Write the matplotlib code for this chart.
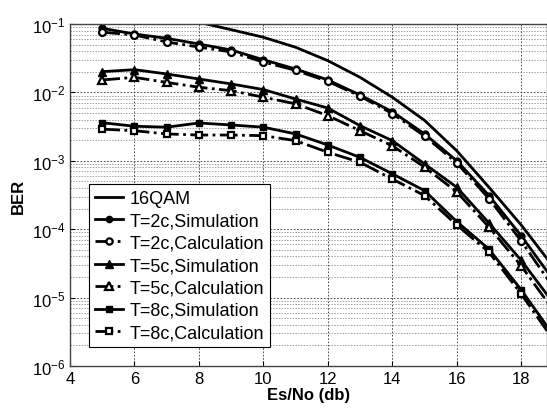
import matplotlib
matplotlib.use("Agg")
import matplotlib.pyplot as plt
import numpy as np

plt.rcParams['font.family'] = ['Liberation Sans', 'DejaVu Sans']
plt.rcParams['mathtext.fontset'] = 'custom'
plt.rcParams['mathtext.rm'] = 'Liberation Sans'

# 数据
snr = [5, 6, 7, 8, 9, 10, 11, 12, 13, 14, 15, 16, 17, 18, 19]
qam_snr = [7, 8, 9, 10, 11, 12, 13, 14, 15, 16, 17, 18, 19]
qam_ber = [0.125, 0.106, 0.0826, 0.064, 0.0457, 0.0291, 0.0166, 0.0085,
           0.0039, 0.0014, 4.1e-4, 1.15e-4, 2.8e-5]
sim_2c = [0.0865, 0.0714, 0.0618, 0.051, 0.0417, 0.030, 0.022, 0.0152,
          0.00916, 0.00522, 0.00247, 0.00100, 3.1e-4, 8.0e-5, 1.8e-5]
calc_2c = [0.076, 0.069, 0.0546, 0.046, 0.039, 0.0278, 0.021, 0.0145,
           0.0088, 0.0049, 0.0023, 9.3e-4, 2.8e-4, 6.7e-5, 1.4e-5]
sim_5c = [0.0201, 0.0215, 0.0186, 0.0157, 0.0133, 0.011, 0.008, 0.0059,
          0.00326, 0.00197, 9.0e-4, 4.1e-4, 1.23e-4, 3.5e-5, 8.3e-6]
calc_5c = [0.0152, 0.0166, 0.014, 0.0119, 0.0106, 0.0085, 0.0068, 0.00457,
           0.00275, 0.00166, 8.1e-4, 3.5e-4, 1.07e-4, 2.9e-5, 6.5e-6]
sim_8c = [0.0036, 0.0032, 0.0031, 0.00357, 0.00334, 0.0031, 0.00247, 0.0017,
          0.00112, 6.45e-4, 3.66e-4, 1.29e-4, 5.1e-5, 1.3e-5, 2.8e-6]
calc_8c = [0.0029, 0.00275, 0.00247, 0.00238, 0.00238, 0.00233, 0.00197, 0.00133,
           9.5e-4, 5.4e-4, 3.1e-4, 1.15e-4, 4.6e-5, 1.13e-5, 2.4e-6]

fig = plt.figure(figsize=(5.47, 4.10), dpi=100)
ax = fig.add_axes([0.128, 0.105, 0.872, 0.834])

lw = 2.0
ms = 5
ax.semilogy(qam_snr, qam_ber, '-', color='k', lw=lw, label='16QAM')
ax.semilogy(snr, sim_2c, '-', color='k', lw=lw, marker='o', ms=ms,
            mfc='k', label='T=2c,Simulation')
ax.semilogy(snr, calc_2c, '-.', color='k', lw=lw, marker='o', ms=ms,
            mfc='w', mew=1.6, label='T=2c,Calculation')
ax.semilogy(snr, sim_5c, '-', color='k', lw=lw, marker='^', ms=ms + 1,
            mfc='k', label='T=5c,Simulation')
ax.semilogy(snr, calc_5c, '-.', color='k', lw=lw, marker='^', ms=ms + 1,
            mfc='w', mew=1.6, label='T=5c,Calculation')
ax.semilogy(snr, sim_8c, '-', color='k', lw=lw, marker='s', ms=ms,
            mfc='k', label='T=8c,Simulation')
ax.semilogy(snr, calc_8c, '-.', color='k', lw=lw, marker='s', ms=ms,
            mfc='w', mew=1.6, label='T=8c,Calculation')

ax.set_xlim(4, 18.8)
ax.set_ylim(1e-6, 1e-1)
ax.set_xticks([4, 6, 8, 10, 12, 14, 16, 18])
ax.grid(True, which='major', color='#333333', linestyle=(0, (2, 2)), lw=0.6)
ax.grid(True, which='minor', color='#777777', linestyle=(0, (2, 2)), lw=0.5)
ax.tick_params(which='both', direction='in', labelsize=12, top=False, right=False)
ax.tick_params(which='minor', length=0)
for s in ax.spines.values():
    s.set_color('#444444')
    s.set_linewidth(1.0)

ax.set_xlabel('Es/No (db)', fontsize=12, fontweight='bold', labelpad=1)
ax.set_ylabel('BER', fontsize=12, fontweight='bold', labelpad=4)

leg = ax.legend(loc='lower left', bbox_to_anchor=(0.04, 0.056), fontsize=13,
                fancybox=False, framealpha=1, edgecolor='k', borderaxespad=0,
                handlelength=1.6, labelspacing=0.3, handletextpad=0.35,
                borderpad=0.3, markerscale=0.9)
leg.get_frame().set_linewidth(0.8)

fig.savefig('out.png', dpi=100)
